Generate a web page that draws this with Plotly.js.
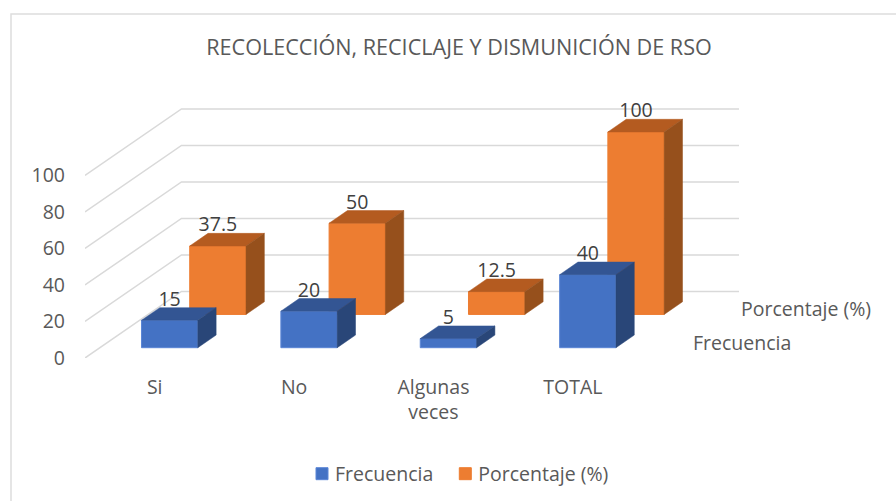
<!DOCTYPE html>
<html>
<head>
<meta charset="utf-8">
<script src="https://cdn.plot.ly/plotly-3.0.1.min.js"></script>
<style>html,body{margin:0;padding:0;background:#fff}#c{width:896px;height:501px}</style>
</head>
<body>
<div id="c"></div>
<script>
const categories = ['Si', 'No', 'Algunas<br>veces', 'TOTAL'];
const frecuencia = [15, 20, 5, 40];
const porcentaje = [37.5, 50, 12.5, 100];
const yTicks = [0, 20, 40, 60, 80, 100];
const seriesNames = ['Frecuencia', 'Porcentaje (%)'];

// oblique 3-D: depth runs from 0 (front) to 1 (back wall)
const DX = 0.692, DY = 36.44, BAR_W = 0.404, BAR_D = 0.19;
const xMin = -0.5, xMax = 3.5;
const idx = categories.map((_, i) => i);

function faces(vals, z, top, side) {
  const out = [];
  const build = (name, color, poly) => {
    const xs = [], ys = [];
    vals.forEach((v, i) => {
      poly(i, v).forEach(p => { xs.push(p[0]); ys.push(p[1]); });
      xs.push(null); ys.push(null);
    });
    out.push({type:'scatter', mode:'lines', x:xs, y:ys, fill:'toself', fillcolor:color,
      line:{color:color, width:0.5}, hoverinfo:'skip', showlegend:false, name:name});
  };
  const L = i => i - BAR_W/2 + z*DX, R = i => i + BAR_W/2 + z*DX, B = z*DY;
  const ddx = BAR_D*DX, ddy = BAR_D*DY;
  build('top', top, (i,v) => [[L(i),B+v],[R(i),B+v],[R(i)+ddx,B+v+ddy],[L(i)+ddx,B+v+ddy],[L(i),B+v]]);
  build('side', side, (i,v) => [[R(i),B],[R(i)+ddx,B+ddy],[R(i)+ddx,B+v+ddy],[R(i),B+v],[R(i),B]]);
  return out;
}
function bar(vals, z, name, color, edge) {
  return {type:'bar', name:name, x:idx.map(i => i + z*DX), y:vals, base:vals.map(() => z*DY),
    width:vals.map(() => BAR_W), marker:{color:color, line:{color:edge, width:1}}, hoverinfo:'y+name'};
}
function labels(vals, z) {
  return {type:'scatter', mode:'text', x:idx.map(i => i + z*DX),
    y:vals.map(v => v + (z + BAR_D)*DY - 1.6), text:vals.map(String), textposition:'top center',
    textfont:{family:'Open Sans', size:19.5, color:'#404040'}, showlegend:false, hoverinfo:'skip', cliponaxis:false};
}

const Z_BLUE = 0.155, Z_ORANGE = 0.655;
const data = [
  bar(porcentaje, Z_ORANGE, seriesNames[1], '#ED7D31', '#ED7D31'),
  bar(frecuencia, Z_BLUE, seriesNames[0], '#4472C4', '#5B86D6'),
  ...faces(porcentaje, Z_ORANGE, '#B45B20', '#96501C'),
  ...faces(frecuencia, Z_BLUE, '#335593', '#294678'),
  labels(porcentaje, Z_ORANGE),
  labels(frecuencia, Z_BLUE)
];

const grid = yTicks.map(v => ({
  type:'path', layer:'below', xref:'x', yref:'y',
  path:`M ${xMin} ${v} L ${xMin+DX} ${v+DY} L ${xMax+DX} ${v+DY}`,
  line:{color:'#D9D9D9', width:1.5}
}));
// chart-area frame: only its top and left edges are in the picture
const pxX = p => (p - 85) / 654, pxY = p => (358 - p) / 270;
const frame = {type:'path', layer:'below', xref:'paper', yref:'paper',
  path:`M ${pxX(11)} ${pxY(501)} L ${pxX(11)} ${pxY(14)} L ${pxX(896)} ${pxY(14)}`,
  line:{color:'#DDDDDD', width:1.5}};

// depth-axis labels sit past the right end of the x range, so x is given as a plot fraction
const depthLabelX = z => (xMax + 0.172 + z*DX - xMin) / (xMax + DX - xMin);

const axisFont = {family:'Open Sans', size:19.5, color:'#595959'};
const layout = {
  width:896, height:501, autosize:false,
  margin:{l:85, r:157, t:88, b:143},
  paper_bgcolor:'#fff', plot_bgcolor:'rgba(0,0,0,0)',
  barmode:'overlay',
  title:{text:'RECOLECCIÓN, RECICLAJE Y DISMUNICIÓN DE RSO', font:{family:'Open Sans', size:21.6, color:'#595959'},
    x:459/896, xanchor:'center', y:1-47/501, yanchor:'middle'},
  xaxis:{range:[xMin, xMax+DX], tickmode:'array', tickvals:idx, ticktext:categories, showgrid:false, zeroline:false,
    showline:false, ticks:'', tickfont:axisFont, ticklabelstandoff:15, tickangle:0},
  yaxis:{range:[0, 147.945], tickmode:'array', tickvals:yTicks, ticktext:yTicks.map(String), showgrid:false, zeroline:false,
    showline:false, ticks:'', tickfont:axisFont, ticklabelstandoff:19},
  shapes:[frame, ...grid],
  annotations:[
    {xref:'paper', yref:'y', x:depthLabelX(0.75), y:0.75*DY-0.4, text:seriesNames[1], showarrow:false, xanchor:'left', yanchor:'middle', font:axisFont},
    {xref:'paper', yref:'y', x:depthLabelX(0.25), y:0.25*DY-0.4, text:seriesNames[0], showarrow:false, xanchor:'left', yanchor:'middle', font:axisFont}
  ],
  legend:{orientation:'h', xref:'container', yref:'container', x:295/896, y:(501-474)/501, xanchor:'left', yanchor:'middle', font:axisFont, traceorder:'reversed'},
  showlegend:true
};
Plotly.newPlot('c', data, layout, {displayModeBar:false, staticPlot:true}).then(() => {
  document.querySelectorAll('.legend .legendpoints').forEach(g => g.setAttribute('transform', 'translate(7,0)'));
});
</script>
</body>
</html>
